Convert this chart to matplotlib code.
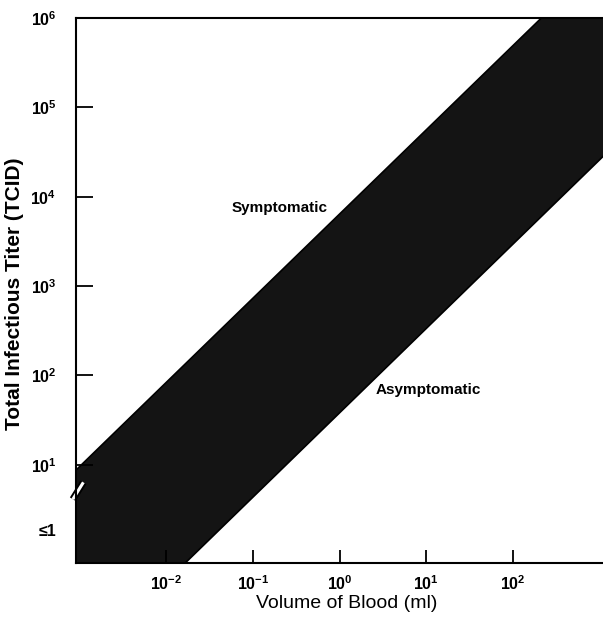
import numpy as np
import matplotlib
matplotlib.use("Agg")
import matplotlib.pyplot as plt

plt.rcParams['font.family'] = ['Liberation Sans', 'DejaVu Sans']
plt.rcParams['mathtext.fontset'] = 'custom'
plt.rcParams['mathtext.rm'] = 'Liberation Sans'
plt.rcParams['mathtext.it'] = 'Liberation Sans'
plt.rcParams['mathtext.bf'] = 'Liberation Sans:bold'

# band edges (log-log straight lines)
vol_ml = [10**-3.04, 10**3.04]
titer_upper = [10**0.94, 10**6.67]
titer_lower = [10**-1.29, 10**4.45]

xticks = [1e-2, 1e-1, 1e0, 1e1, 1e2]
xticklabels = [r'$\mathbf{10^{-2}}$', r'$\mathbf{10^{-1}}$', r'$\mathbf{10^{0}}$',
               r'$\mathbf{10^{1}}$', r'$\mathbf{10^{2}}$']
yticks = [10**0.27, 1e1, 1e2, 1e3, 1e4, 1e5, 1e6]
yticklabels = ['≤1', r'$\mathbf{10^{1}}$', r'$\mathbf{10^{2}}$', r'$\mathbf{10^{3}}$',
               r'$\mathbf{10^{4}}$', r'$\mathbf{10^{5}}$', r'$\mathbf{10^{6}}$']

fig = plt.figure(figsize=(6.03, 6.29), dpi=100)
ax = fig.add_axes([76/603, 1 - 563/629, 1 - 76/603, (563 - 18)/629])

ax.fill_between(vol_ml, titer_lower, titer_upper, color='#141414', lw=0)
ax.plot(vol_ml, titer_upper, color='black', lw=1.2)
ax.plot(vol_ml, titer_lower, color='black', lw=1.2)

ax.set_xscale('log')
ax.set_yscale('log')
ax.set_xlim(10**-3.04, 10**3.04)
ax.set_ylim(10**-0.1, 1e6)

ax.set_xticks(xticks)
ax.set_xticklabels(xticklabels, fontsize=11.5)
ax.set_yticks(yticks)
ax.set_yticklabels(yticklabels, fontsize=11.5, fontweight='bold')
ax.minorticks_off()
ax.tick_params(axis='x', direction='in', length=9.5, width=1.3, pad=8)
ax.tick_params(axis='y', direction='in', length=12, width=1.3, pad=14)
ax.yaxis.get_major_ticks()[0].tick1line.set_visible(False)

for s in ['left', 'bottom', 'top']:
    ax.spines[s].set_linewidth(1.5)
ax.spines['right'].set_visible(False)

ax.set_xlabel('Volume of Blood (ml)', fontsize=14)
ax.xaxis.set_label_coords(0.514, -0.058)
ax.set_ylabel('Total Infectious Titer (TCID)', fontsize=15, fontweight='bold')
ax.yaxis.set_label_coords(-0.099, 0.494)

ax.text(10**-0.687, 10**3.875, 'Symptomatic', fontsize=11, fontweight='bold',
        ha='center', va='center')
ax.text(10**1.02, 10**1.84, 'Asymptomatic', fontsize=11, fontweight='bold',
        ha='center', va='center')

# axis break mark on the left spine
bx = [-0.006, 0.014]
by = [0.117, 0.148]
ax.plot(bx, by, transform=ax.transAxes, color='black', lw=5, clip_on=False,
        solid_capstyle='butt')
ax.plot(bx, by, transform=ax.transAxes, color='white', lw=2.2, clip_on=False,
        solid_capstyle='butt')

fig.savefig('out.png', dpi=100)
